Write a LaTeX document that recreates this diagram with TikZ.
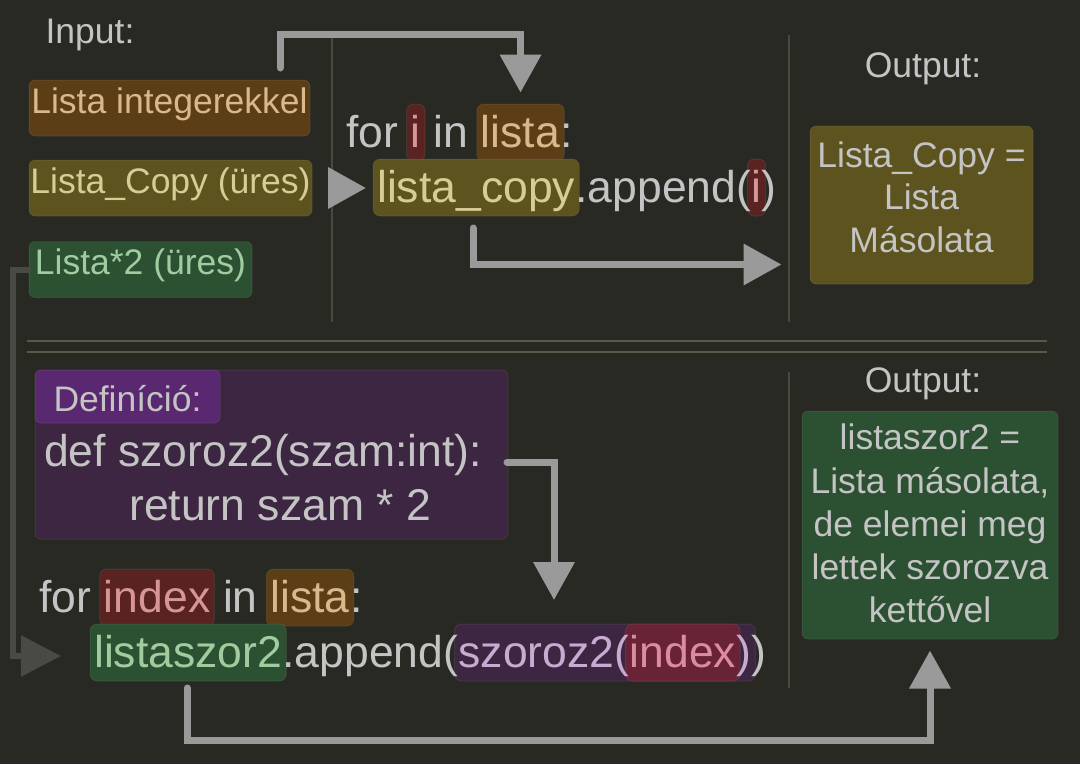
\documentclass[tikz,border=0pt]{standalone}
\usepackage{fontspec}
\setmainfont{Liberation Sans}
\usetikzlibrary{arrows.meta,calc}
\definecolor{bgc}{RGB}{41,41,36}
\definecolor{txt}{RGB}{196,196,196}
\definecolor{arrc}{RGB}{154,154,154}
\definecolor{darkarrc}{RGB}{74,74,68}
\definecolor{sepc}{RGB}{72,72,64}
\definecolor{sepc2}{RGB}{88,88,74}
\definecolor{horange}{RGB}{92,62,22}
\definecolor{holive}{RGB}{93,83,31}
\definecolor{hgreen}{RGB}{44,80,50}
\definecolor{hred}{RGB}{88,35,32}
\definecolor{hredb}{RGB}{105,35,55}
\definecolor{hpurple}{RGB}{60,38,65}
\definecolor{hpurplel}{RGB}{90,40,112}
\definecolor{tantext}{RGB}{216,185,140}
\definecolor{olivetext}{RGB}{214,205,150}
\definecolor{greentext}{RGB}{160,205,160}
\definecolor{redtext}{RGB}{215,150,150}
\definecolor{redtextb}{RGB}{220,140,160}
\definecolor{purpletext}{RGB}{200,170,210}
\pgfdeclarelayer{bglayer}
\pgfdeclarelayer{hl}
\pgfsetlayers{bglayer,hl,main}
\newcommand\codefont{\fontsize{44.5}{50}\selectfont}
\newcommand\smallfont{\fontsize{35.5}{42}\selectfont}
\newcommand\wsp{\kern.278em}
\tikzset{
  code/.style={font=\codefont, text=txt, inner sep=0pt, anchor=base west},
  lbl/.style={font=\smallfont, text=txt, inner sep=0pt, anchor=base},
  inbox/.style={font=\smallfont, rounded corners=6pt, inner sep=0pt, minimum height=56pt, text height=22pt, text depth=12pt, draw=white, draw opacity=0.07, line width=1pt},
  panel/.style={rounded corners=6pt, inner sep=0pt, draw=white, draw opacity=0.07, line width=1pt},
  hlstyle/.style={rounded corners=7pt, draw=white, draw opacity=0.07, line width=1pt},
  arr/.style={draw=arrc, line width=7pt, line cap=round, -{Triangle[length=38pt,width=40pt]}},
  darkarr/.style={draw=darkarrc, line width=6pt, line cap=round, -{Triangle[length=40pt,width=40pt]}},
  sep/.style={draw=sepc, line width=1.6pt},
  sepd/.style={draw=sepc2, line width=1.6pt},
}
\newcommand\hlrect[3]{\begin{pgfonlayer}{hl}\path[hlstyle, fill=#1] ($(#2.base west)+(-4,-43)$) rectangle ($(#3.base east)+(4,14)$);\end{pgfonlayer}}
\begin{document}
\begin{tikzpicture}[x=1pt,y=-1pt]
\begin{pgfonlayer}{bglayer}
\fill[bgc] (0,0) rectangle (1080,764);
\end{pgfonlayer}
\useasboundingbox (0,0) rectangle (1080,764);

% separators
\draw[sep] (332,35) -- (332,322);
\draw[sep] (789,35) -- (789,322);
\draw[sep] (789,372) -- (789,688);
\draw[sepd] (27,341) -- (1047,341);
\draw[sepd] (27,352) -- (1047,352);

% input
\node[lbl] (inlbl) at (90,43) {Input:};
\node[inbox, fill=horange, text=tantext, minimum width=281pt] (inlist) at (169.5,108) {Lista integerekkel};
\node[inbox, fill=holive, text=olivetext, minimum width=283pt] (incopy) at (170.5,188) {Lista\_Copy (üres)};
\node[inbox, fill=hgreen, text=greentext, minimum width=223pt] (intwo) at (140.5,269.5) {Lista*2 (üres)};

% top code
\node[code] (t1for) at (346,147) {for\wsp};
\node[code, text=redtext] (t1i) at (t1for.base east) {i};
\node[code] (t1in) at (t1i.base east) {\wsp in\wsp};
\node[code, text=tantext] (t1lista) at (t1in.base east) {lista};
\node[code] (t1col) at (t1lista.base east) {:};
\node[code, text=olivetext] (t2lc) at (377,202) {lista\_copy};
\node[code] (t2app) at (t2lc.base east) {.append(};
\node[code, text=redtext] (t2i) at (t2app.base east) {i};
\node[code] (t2cl) at (t2i.base east) {)};
\hlrect{hred}{t1i}{t1i}
\hlrect{horange}{t1lista}{t1lista}
\hlrect{holive}{t2lc}{t2lc}
\hlrect{hred}{t2i}{t2i}

% top output
\node[lbl] (outlbl1) at (923,77) {Output:};
\node[panel, fill=holive, minimum width=223pt, minimum height=158pt] (outone) at (921.5,205) {};
\node[lbl] (o1a) at (921.5,167) {Lista\_Copy =};
\node[lbl] (o1b) at (921.5,209) {Lista};
\node[lbl] (o1c) at (921.5,252) {Másolata};

% definition
\node[panel, fill=hpurple, minimum width=473pt, minimum height=169pt] (defbox) at (271.5,454.5) {};
\node[panel, fill=hpurplel, minimum width=185pt, minimum height=53pt, font=\smallfont, text=txt, text height=29pt, text depth=0pt] (deflbl) at (127.5,396.5) {Definíció:};
\node[code] (d1) at (44,466) {def szoroz2(szam:int):};
\node[code] (d2) at (129,520) {return szam * 2};

% bottom code
\node[code] (b1for) at (39,612) {for\wsp};
\node[code, text=redtext] (b1idx) at (b1for.base east) {index};
\node[code] (b1in) at (b1idx.base east) {\wsp in\wsp};
\node[code, text=tantext] (b1lista) at (b1in.base east) {lista};
\node[code] (b1col) at (b1lista.base east) {:};
\node[code, text=greentext] (b2ls) at (94,667) {listaszor2};
\node[code] (b2app) at (b2ls.base east) {.append(};
\node[code, text=purpletext] (b2sz) at (b2app.base east) {szoroz2(};
\node[code, text=redtextb] (b2idx) at (b2sz.base east) {index};
\node[code, text=purpletext] (b2cl) at (b2idx.base east) {)};
\node[code] (b2clb) at (b2cl.base east) {)};
\hlrect{hred}{b1idx}{b1idx}
\hlrect{horange}{b1lista}{b1lista}
\hlrect{hgreen}{b2ls}{b2ls}
\hlrect{hpurple}{b2sz}{b2cl}
\hlrect{hredb}{b2idx}{b2idx}

% bottom output
\node[lbl] (outlbl2) at (923,392) {Output:};
\node[panel, fill=hgreen, minimum width=256pt, minimum height=228pt] (outtwo) at (930,525) {};
\node[lbl] (o2a) at (930,449) {listaszor2 =};
\node[lbl] (o2b) at (930,493) {Lista másolata,};
\node[lbl] (o2c) at (930,536) {de elemei meg};
\node[lbl] (o2d) at (930,579) {lettek szorozva};
\node[lbl] (o2e) at (930,622) {kettővel};

% arrows
\coordinate (a1s) at (280,68);
\coordinate (a1c) at (280,34);
\draw[arr] (a1s) -- (a1c) -| ($(t1lista.north)+(0,-22)$);
\draw[arr, line cap=butt, shorten <=15pt, shorten >=11pt] (incopy.east) -- (incopy.east -| t2lc.west);
\coordinate (a3s) at (473,228);
\draw[arr] (a3s) |- ($(outone.south west)+(-28,-20)$);
\coordinate (a4s) at (507,462);
\coordinate (a4e) at (554,600);
\draw[arr] (a4s) -| (a4e);
\draw[darkarr] (intwo.west) -- ++(-16,0) |- ($(b2ls.base west)+(-33,-11)$);
\coordinate (a6s) at (187,688);
\coordinate (a6c) at (187,740);
\draw[arr] (a6s) -- (a6c) -| ($(outtwo.south)+(0,11)$);
\end{tikzpicture}
\end{document}
